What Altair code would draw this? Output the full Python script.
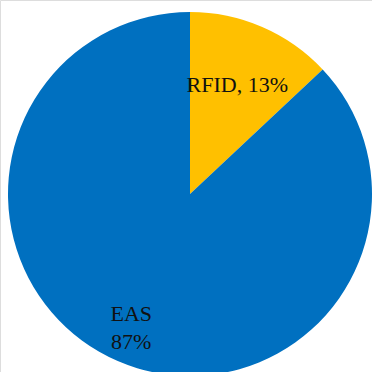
import altair as alt
import pandas as pd

categories = ["RFID", "EAS"]
values = [13, 87]
labels = ["RFID, 13%", "EAS\n87%"]
colors = ["#FFC000", "#0070C0"]

df = pd.DataFrame({"category": categories, "value": values, "label": labels,
                   "idx": list(range(len(categories)))})
total = float(sum(values))

pie = alt.Chart(df).mark_arc().encode(
    theta=alt.Theta("value:Q", stack=True),
    order=alt.Order("idx:Q"),
    color=alt.Color("category:N", scale=alt.Scale(domain=categories, range=colors), legend=None),
    x=alt.value(190),
    y=alt.value(194),
    radius=alt.value(182),
)

text = alt.Chart(df).transform_window(
    cum="sum(value)", sort=[alt.SortField("idx")]
).transform_calculate(
    mid="datum.cum - datum.value / 2"
).mark_text(font="Liberation Serif", fontSize=22, color="#111111",
            lineBreak="\n", lineHeight=28, align="center", baseline="middle",
            dy=alt.expr("indexof(datum.label, '\\n') >= 0 ? -16 : 0")).encode(
    theta=alt.Theta("mid:Q", stack=False, scale=alt.Scale(domain=[0, total])),
    text="label:N",
    x=alt.value(190),
    y=alt.value(194),
    radius=alt.Radius("category:N", scale=alt.Scale(domain=categories, range=[119, 148])),
)

chart = (pie + text).resolve_scale(theta="independent").properties(
    width=372, height=372, padding=0, autosize=alt.AutoSizeParams(type="none")
).configure_view(stroke=None).configure(background="white")

chart.save("out.html", embed_options={"renderer": "svg", "actions": False})
